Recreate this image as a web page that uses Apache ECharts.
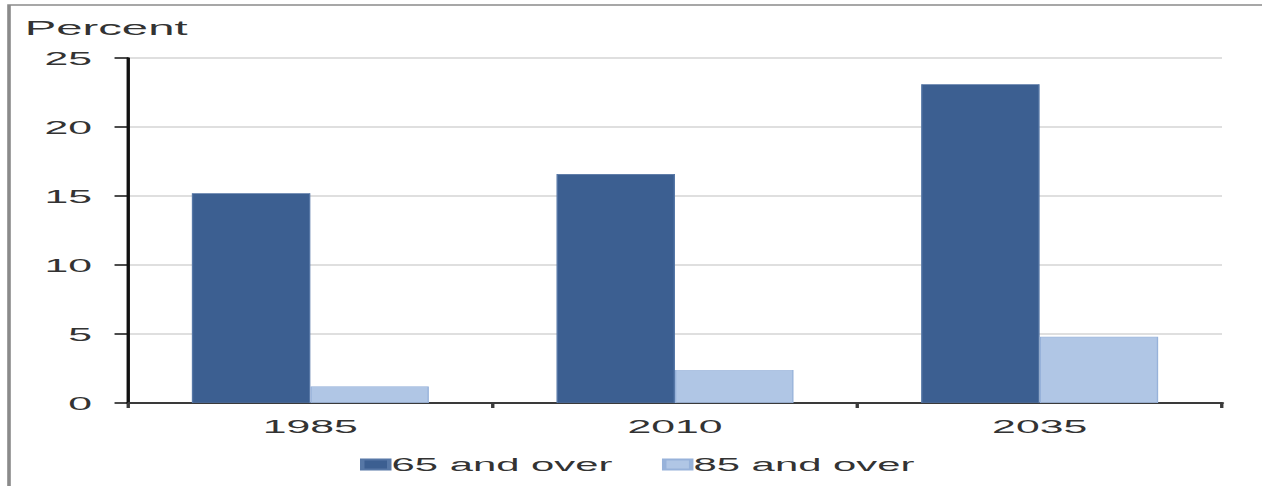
<!DOCTYPE html>
<html>
<head>
<meta charset="utf-8">
<script src="https://cdn.jsdelivr.net/npm/echarts@6/dist/echarts.min.js"></script>
<style>
  html, body { margin: 0; padding: 0; background: #fff; overflow: hidden; }
  #wrap { width: 1262px; height: 486px; overflow: hidden; position: relative; }
  /* chart is laid out narrow, then widened as a whole */
  #chart { width: 561px; height: 486px; transform: scaleX(2.25); transform-origin: 0 0; }
</style>
</head>
<body>
<div id="wrap"><div id="chart"></div></div>
<script>
const years = ['1985', '2010', '2035'];
const age65 = [15.2, 16.6, 23.1];
const age85 = [1.2, 2.4, 4.8];
const yTicks = [0, 5, 10, 15, 20, 25];
const seriesNames = ['65 and over', '85 and over'];

const FONT = "'Liberation Sans', Arial, sans-serif";
const chart = echarts.init(document.getElementById('chart'), null, { renderer: 'svg' });

chart.setOption({
  animation: false,
  backgroundColor: '#ffffff',
  graphic: [
    { type: 'rect', shape: { x: 4, y: 5, width: 600, height: 520 },
      style: { fill: 'none', stroke: '#8a8a8a', lineWidth: 1.6 }, silent: true },
    { type: 'text', left: 11, top: 17,
      style: { text: 'Percent', font: '21px ' + FONT, fill: '#333' } }
  ],
  grid: { left: 56.9, right: 17.9, top: 58, bottom: 83 },
  legend: {
    left: 155, top: 450,
    itemWidth: 12, itemHeight: 10, itemGap: 22,
    icon: 'rect',
    textStyle: { fontFamily: FONT, fontSize: 18.6, color: '#333', padding: [0, 0, 0, -4] },
    data: seriesNames
  },
  xAxis: {
    type: 'category',
    data: years,
    axisLine: { lineStyle: { color: '#3a3a3a', width: 2 } },
    axisTick: { show: true, length: 5, lineStyle: { color: '#3a3a3a', width: 1.5 } },
    axisLabel: { fontFamily: FONT, fontSize: 19, color: '#333', margin: 14 }
  },
  yAxis: {
    type: 'value',
    min: yTicks[0], max: yTicks[yTicks.length - 1], interval: 5,
    axisLine: { show: true, lineStyle: { color: '#111', width: 1.5 } },
    axisTick: { show: true, length: 6, lineStyle: { color: '#111', width: 1.5 } },
    axisLabel: { fontFamily: FONT, fontSize: 19, color: '#333', margin: 16 },
    splitLine: { lineStyle: { color: '#d4d4d4', width: 1.5 } }
  },
  series: [
    { name: seriesNames[0], type: 'bar', data: age65,
      barGap: '0%', barCategoryGap: '35%',
      itemStyle: { color: '#3c5f91', borderColor: '#5677a6', borderWidth: 0.6 } },
    { name: seriesNames[1], type: 'bar', data: age85,
      barGap: '0%', barCategoryGap: '35%',
      itemStyle: { color: '#b0c6e5', borderColor: '#97b2da', borderWidth: 0.6 } }
  ]
});
</script>
</body>
</html>
